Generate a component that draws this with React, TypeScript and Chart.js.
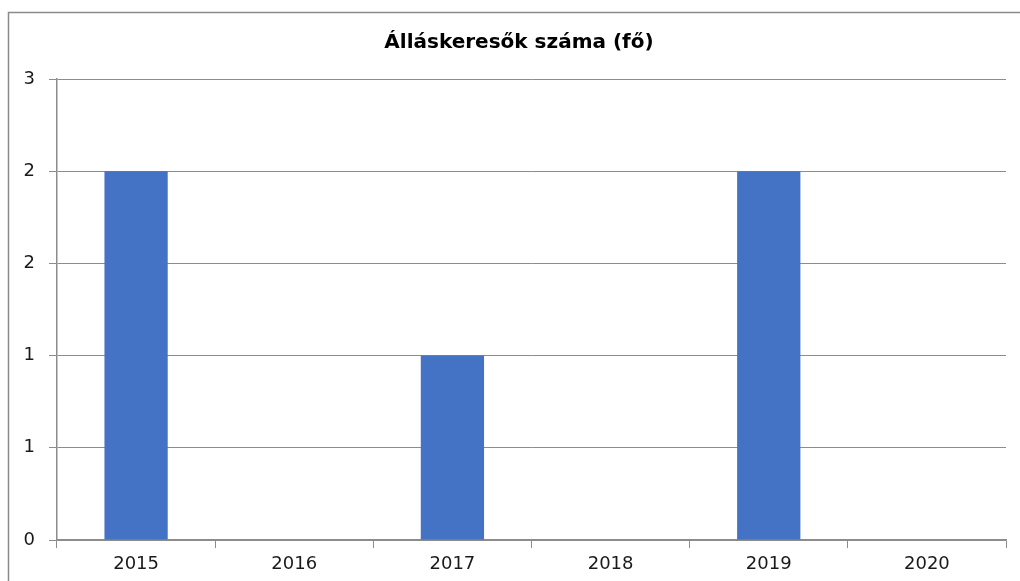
import React, { useEffect, useRef } from "react";
import { Chart, registerables } from "chart.js";

Chart.register(...registerables);

const TITLE = "Álláskeresők száma (fő)";
const YEARS = ["2015", "2016", "2017", "2018", "2019", "2020"];
const VALUES = [2, 0, 1, 0, 2, 0];
const Y_TICK_LABELS = ["0", "1", "1", "2", "2", "3"];
const Y_MAX = 2.5;
const Y_STEP = 0.5;

const GRID = "#8c8c8c";
const BAR = "#4472C4";
const FONT = "'DejaVu Sans', sans-serif";

const framePlugin = {
  id: "frame",
  beforeDraw(chart: any) {
    const ctx = chart.ctx;
    ctx.save();
    ctx.strokeStyle = "#8a8a8a";
    ctx.lineWidth = 1.5;
    ctx.beginPath();
    ctx.moveTo(8.5, chart.height + 5);
    ctx.lineTo(8.5, 12.5);
    ctx.lineTo(chart.width + 5, 12.5);
    ctx.stroke();
    ctx.fillStyle = "#000000";
    ctx.font = "bold 20px " + FONT;
    ctx.textAlign = "center";
    ctx.textBaseline = "middle";
    ctx.fillText(TITLE, (chart.width + 18) / 2, 43);
    ctx.restore();
  },
};

export default function App() {
  const ref = useRef<HTMLCanvasElement>(null);
  useEffect(() => {
    const chart = new Chart(ref.current as HTMLCanvasElement, {
      type: "bar",
      data: {
        labels: YEARS,
        datasets: [
          {
            data: VALUES,
            backgroundColor: BAR,
            borderWidth: 0,
            barPercentage: 0.4,
            categoryPercentage: 1,
          },
        ],
      },
      plugins: [framePlugin],
      options: {
        animation: false,
        responsive: true,
        maintainAspectRatio: false,
        layout: { padding: { left: 0, right: 14, top: 79, bottom: 0 } },
        plugins: {
          legend: { display: false },
          tooltip: { enabled: false },
          title: { display: false },
        },
        scales: {
          x: {
            offset: true,
            afterFit: (s: any) => {
              s.height = 41;
            },
            grid: {
              offset: true,
              drawOnChartArea: false,
              drawTicks: true,
              tickLength: 8,
              color: GRID,
              lineWidth: 1,
            },
            border: { display: true, color: GRID, width: 1.5 },
            ticks: {
              color: "#1a1a1a",
              font: { family: FONT, size: 18 },
              padding: 6,
              maxRotation: 0,
            },
          },
          y: {
            min: 0,
            max: Y_MAX,
            afterFit: (s: any) => {
              s.width = 57;
            },
            ticks: {
              stepSize: Y_STEP,
              color: "#1a1a1a",
              font: { family: FONT, size: 18 },
              padding: 14,
              callback: (_v: any, i: number) => Y_TICK_LABELS[i],
            },
            grid: {
              color: GRID,
              lineWidth: 1,
              tickLength: 8,
              drawTicks: true,
            },
            border: { display: true, color: GRID, width: 1.5 },
          },
        },
      },
    });
    return () => chart.destroy();
  }, []);
  return (
    <div style={{ position: "fixed", left: 0, top: 0, width: 1020, height: 581, background: "#fff" }}>
      <canvas ref={ref} />
    </div>
  );
}
